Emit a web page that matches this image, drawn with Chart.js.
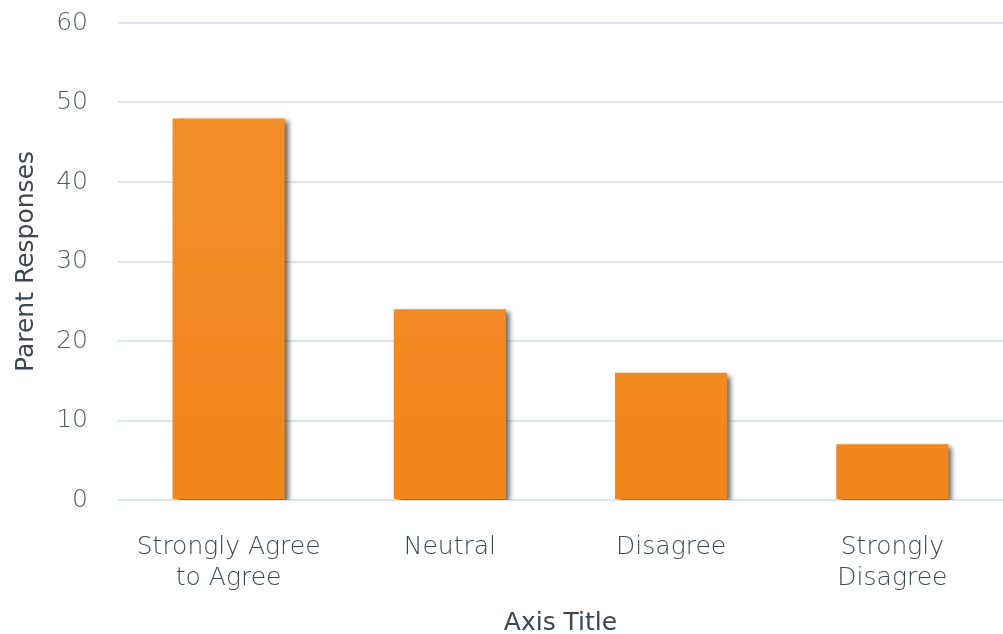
<!DOCTYPE html>
<html>
<head>
<meta charset="utf-8">
<script src="https://cdn.jsdelivr.net/npm/chart.js@4/dist/chart.umd.min.js"></script>
<style>
  html, body { margin: 0; padding: 0; background: #fff; }
  #wrap { width: 1003px; height: 634px; position: relative; }
</style>
</head>
<body>
<div id="wrap"><canvas id="chart"></canvas></div>
<script>
'use strict';

// ─── Data ────────────────────────────────────────────────────────────────────
const categories = [['Strongly Agree', 'to Agree'], 'Neutral', 'Disagree', ['Strongly', 'Disagree']];
const responses  = [48, 24, 16, 7];
const yTicks     = [0, 10, 20, 30, 40, 50, 60];

const FONT       = '"DejaVu Sans", sans-serif';
const LABEL_TEXT = '#3b4650';
const TICK_TEXT  = '#555b60';

// Soft drop shadow to the lower right of each bar
const barShadow = {
  id: 'barShadow',
  beforeDatasetsDraw(chart) {
    const ctx = chart.ctx;
    ctx.save();
    ctx.shadowColor   = 'rgba(50, 50, 50, 0.75)';
    ctx.shadowBlur    = 5;
    ctx.shadowOffsetX = 4;
    ctx.shadowOffsetY = 3;
  },
  afterDatasetsDraw(chart) {
    chart.ctx.restore();
  },
};

const ctx = document.getElementById('chart').getContext('2d');

function barFill(context) {
  const area = context.chart.chartArea;
  if (!area) return '#f28a1e';
  const g = context.chart.ctx.createLinearGradient(0, area.top, 0, area.bottom);
  g.addColorStop(0, '#f3902c');
  g.addColorStop(1, '#f1861a');
  return g;
}

new Chart(ctx, {
  type: 'bar',
  data: {
    labels: categories,
    datasets: [{
      data:               responses,
      backgroundColor:    barFill,
      borderWidth:        0,
      categoryPercentage: 1,
      barPercentage:      0.507,
    }],
  },
  options: {
    responsive:          true,
    maintainAspectRatio: false,
    animation:           false,
    layout: { padding: { top: 23, right: 0, left: 0, bottom: 0 } },
    plugins: {
      legend:  { display: false },
      tooltip: { enabled: false },
    },
    scales: {
      x: {
        grid:   { display: false, drawTicks: false },
        border: { display: false },
        ticks:  { color: LABEL_TEXT, font: { family: FONT, size: 25, weight: 200, lineHeight: 1.25 }, padding: 32, maxRotation: 0 },
        title:  { display: true, text: 'Axis Title', color: LABEL_TEXT, font: { family: FONT, size: 25, lineHeight: 0.85 }, padding: { top: 4, bottom: 0 } },
        afterFit: (s) => { s.height = 134; },
      },
      y: {
        min: 0,
        max: 60,
        afterBuildTicks: (s) => { s.ticks = yTicks.map(v => ({ value: v })); },
        grid:   { color: '#dde5ec', lineWidth: 2, drawTicks: false },
        border: { display: false },
        ticks:  { color: TICK_TEXT, font: { family: FONT, size: 25, weight: 200 }, padding: 30 },
        title:  { display: true, text: 'Parent Responses', color: LABEL_TEXT, font: { family: FONT, size: 25 }, padding: { top: 11, bottom: 4 } },
        afterFit: (s) => { s.width = 118; s.paddingTop = 0; s.paddingBottom = 0; },
      },
    },
  },
  plugins: [barShadow],
});
</script>
</body>
</html>
